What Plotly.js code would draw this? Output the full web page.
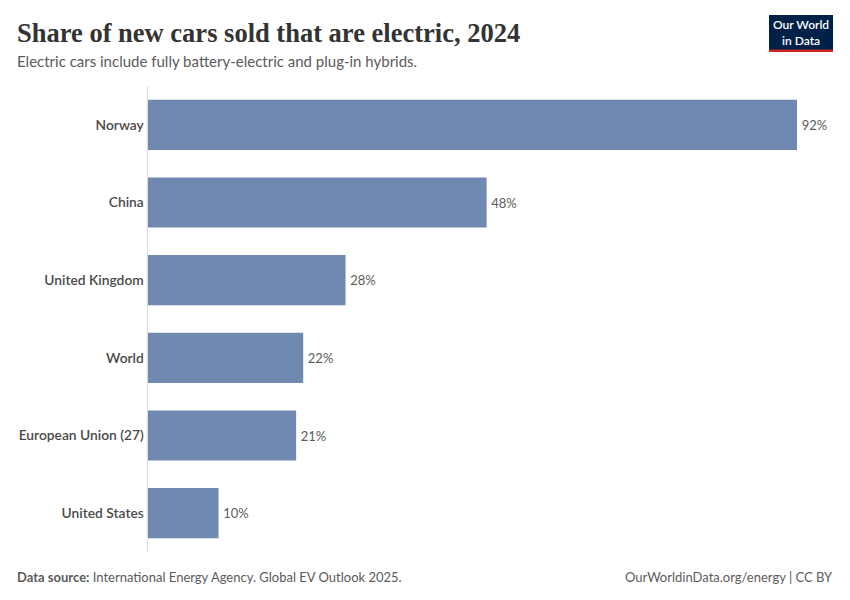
<!DOCTYPE html>
<html>
<head>
<meta charset="utf-8">
<script src="https://cdn.plot.ly/plotly-3.0.1.min.js"></script>
<style>html,body{margin:0;padding:0;background:#fff;}#chart{width:850px;height:600px;}</style>
</head>
<body>
<div id="chart"></div>
<script>
const countries = ["Norway", "China", "United Kingdom", "World", "European Union (27)", "United States"];
const shares = [92, 48, 28, 22, 21, 10];

const trace = {
  type: 'bar',
  orientation: 'h',
  y: countries,
  x: shares,
  marker: {color: '#7089b1'},
  text: shares.map(v => '\u2009' + v + '%'),
  textposition: 'outside',
  cliponaxis: false,
  textfont: {family: 'Lato', size: 13, color: '#5b5b5b'},
  hoverinfo: 'none'
};

const L = 148, W = 649, T = 86, H = 466;
const px = x => (x - L) / W;
const py = y => 1 + (T - y) / H;

const layout = {
  width: 850, height: 600,
  margin: {l: L, r: 850 - L - W, t: T, b: 600 - T - H},
  paper_bgcolor: '#fff', plot_bgcolor: '#fff',
  showlegend: false,
  bargap: 0.355,
  xaxis: {range: [0, 92], showgrid: false, zeroline: false, showticklabels: false, ticks: '', fixedrange: true},
  yaxis: {autorange: 'reversed', showline: true, linecolor: '#dcdcdc', linewidth: 1.5, ticks: '', ticklen: 0,
          tickfont: {family: 'Lato', size: 13.8, color: '#4a4a4a', weight: 600}, automargin: false, showgrid: false},
  font: {family: 'Lato'},
  annotations: [
    {xref: 'paper', yref: 'paper', x: px(15), y: py(33), xanchor: 'left', yanchor: 'middle', showarrow: false,
     text: '<b>Share of new cars sold that are electric, 2024</b>', font: {family: 'Liberation Serif', size: 26.5, color: '#333333'}},
    {xref: 'paper', yref: 'paper', x: px(15), y: py(61), xanchor: 'left', yanchor: 'middle', showarrow: false,
     text: 'Electric cars include fully battery-electric and plug-in hybrids.', font: {family: 'Lato', size: 15, color: '#5b5b5b'}},
    {xref: 'paper', yref: 'paper', x: px(15), y: py(577), xanchor: 'left', yanchor: 'middle', showarrow: false,
     text: '<b>Data source:</b> International Energy Agency. Global EV Outlook 2025.', font: {family: 'Lato', size: 13, color: '#5b5b5b'}},
    {xref: 'paper', yref: 'paper', x: px(835), y: py(577), xanchor: 'right', yanchor: 'middle', showarrow: false,
     text: 'OurWorldinData.org/energy | CC BY', font: {family: 'Lato', size: 13, color: '#5b5b5b'}},
    {xref: 'paper', yref: 'paper', x: px(801), y: py(32), xanchor: 'center', yanchor: 'middle', showarrow: false,
     text: 'Our World<br>in Data', align: 'center', font: {family: 'Lato', size: 12, color: '#ffffff', weight: 600}}
  ],
  shapes: [
    {type: 'rect', xref: 'paper', yref: 'paper', x0: px(769), x1: px(833), y0: py(50), y1: py(15),
     fillcolor: '#002147', line: {width: 0}},
    {type: 'rect', xref: 'paper', yref: 'paper', x0: px(769), x1: px(833), y0: py(52), y1: py(49.5),
     fillcolor: '#ce261e', line: {width: 0}}
  ]
};

Plotly.newPlot('chart', [trace], layout, {displayModeBar: false, staticPlot: true});
</script>
</body>
</html>
